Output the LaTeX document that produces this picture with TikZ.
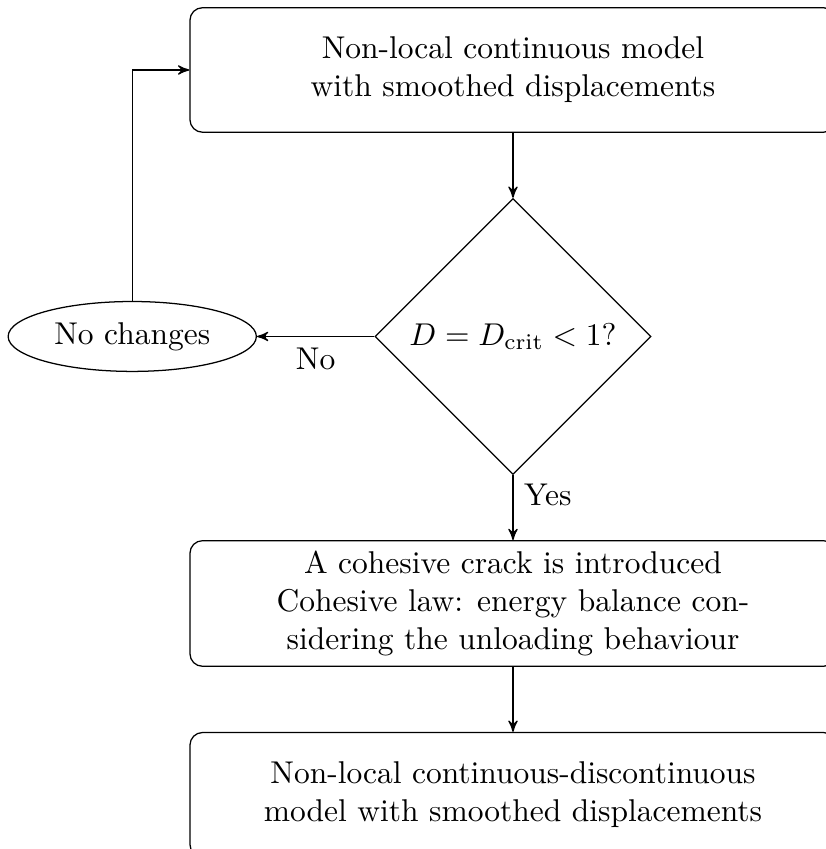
\documentclass[tikz,border=0pt]{standalone}
\usepackage{amsmath}
\usetikzlibrary{arrows,shapes.geometric,positioning}
\tikzset{
  procbox/.style={rectangle,rounded corners,draw,align=center,minimum width=7.21cm,minimum height=1.39cm},
  decision/.style={diamond,draw,aspect=1,inner sep=1pt,minimum size=3.08cm},
  outcome/.style={ellipse,draw,minimum width=2.77cm,minimum height=0.78cm,inner sep=1pt}
}

\begin{document}
\begin{tikzpicture}[node distance=7.25mm,>=stealth']
        \useasboundingbox (0,0) rectangle (9.208,-9.475);
        \node[procbox] (model) at (5.725,-0.781) {Non-local continuous model\\with smoothed displacements};
        \node[decision,below=of model] (check) {$D = D_{\mathrm{crit}} < 1$?};
        \node[outcome,left=13.1mm of check] (same) {No changes};
        \node[procbox,below=of check] (crack) {A cohesive crack is introduced\\Cohesive law: energy balance con-\\sidering the unloading behaviour};
        \node[procbox,below=of crack] (final) {Non-local continuous-discontinuous\\model with smoothed displacements};
        \path[->]
          (model) edge (check)
          (check) edge node[below] {No} (same)
          (check) edge node[right,pos=0.3] {Yes} (crack)
          (crack) edge (final);
        \draw[->] (same) |- (model);
      \end{tikzpicture}
\end{document}
